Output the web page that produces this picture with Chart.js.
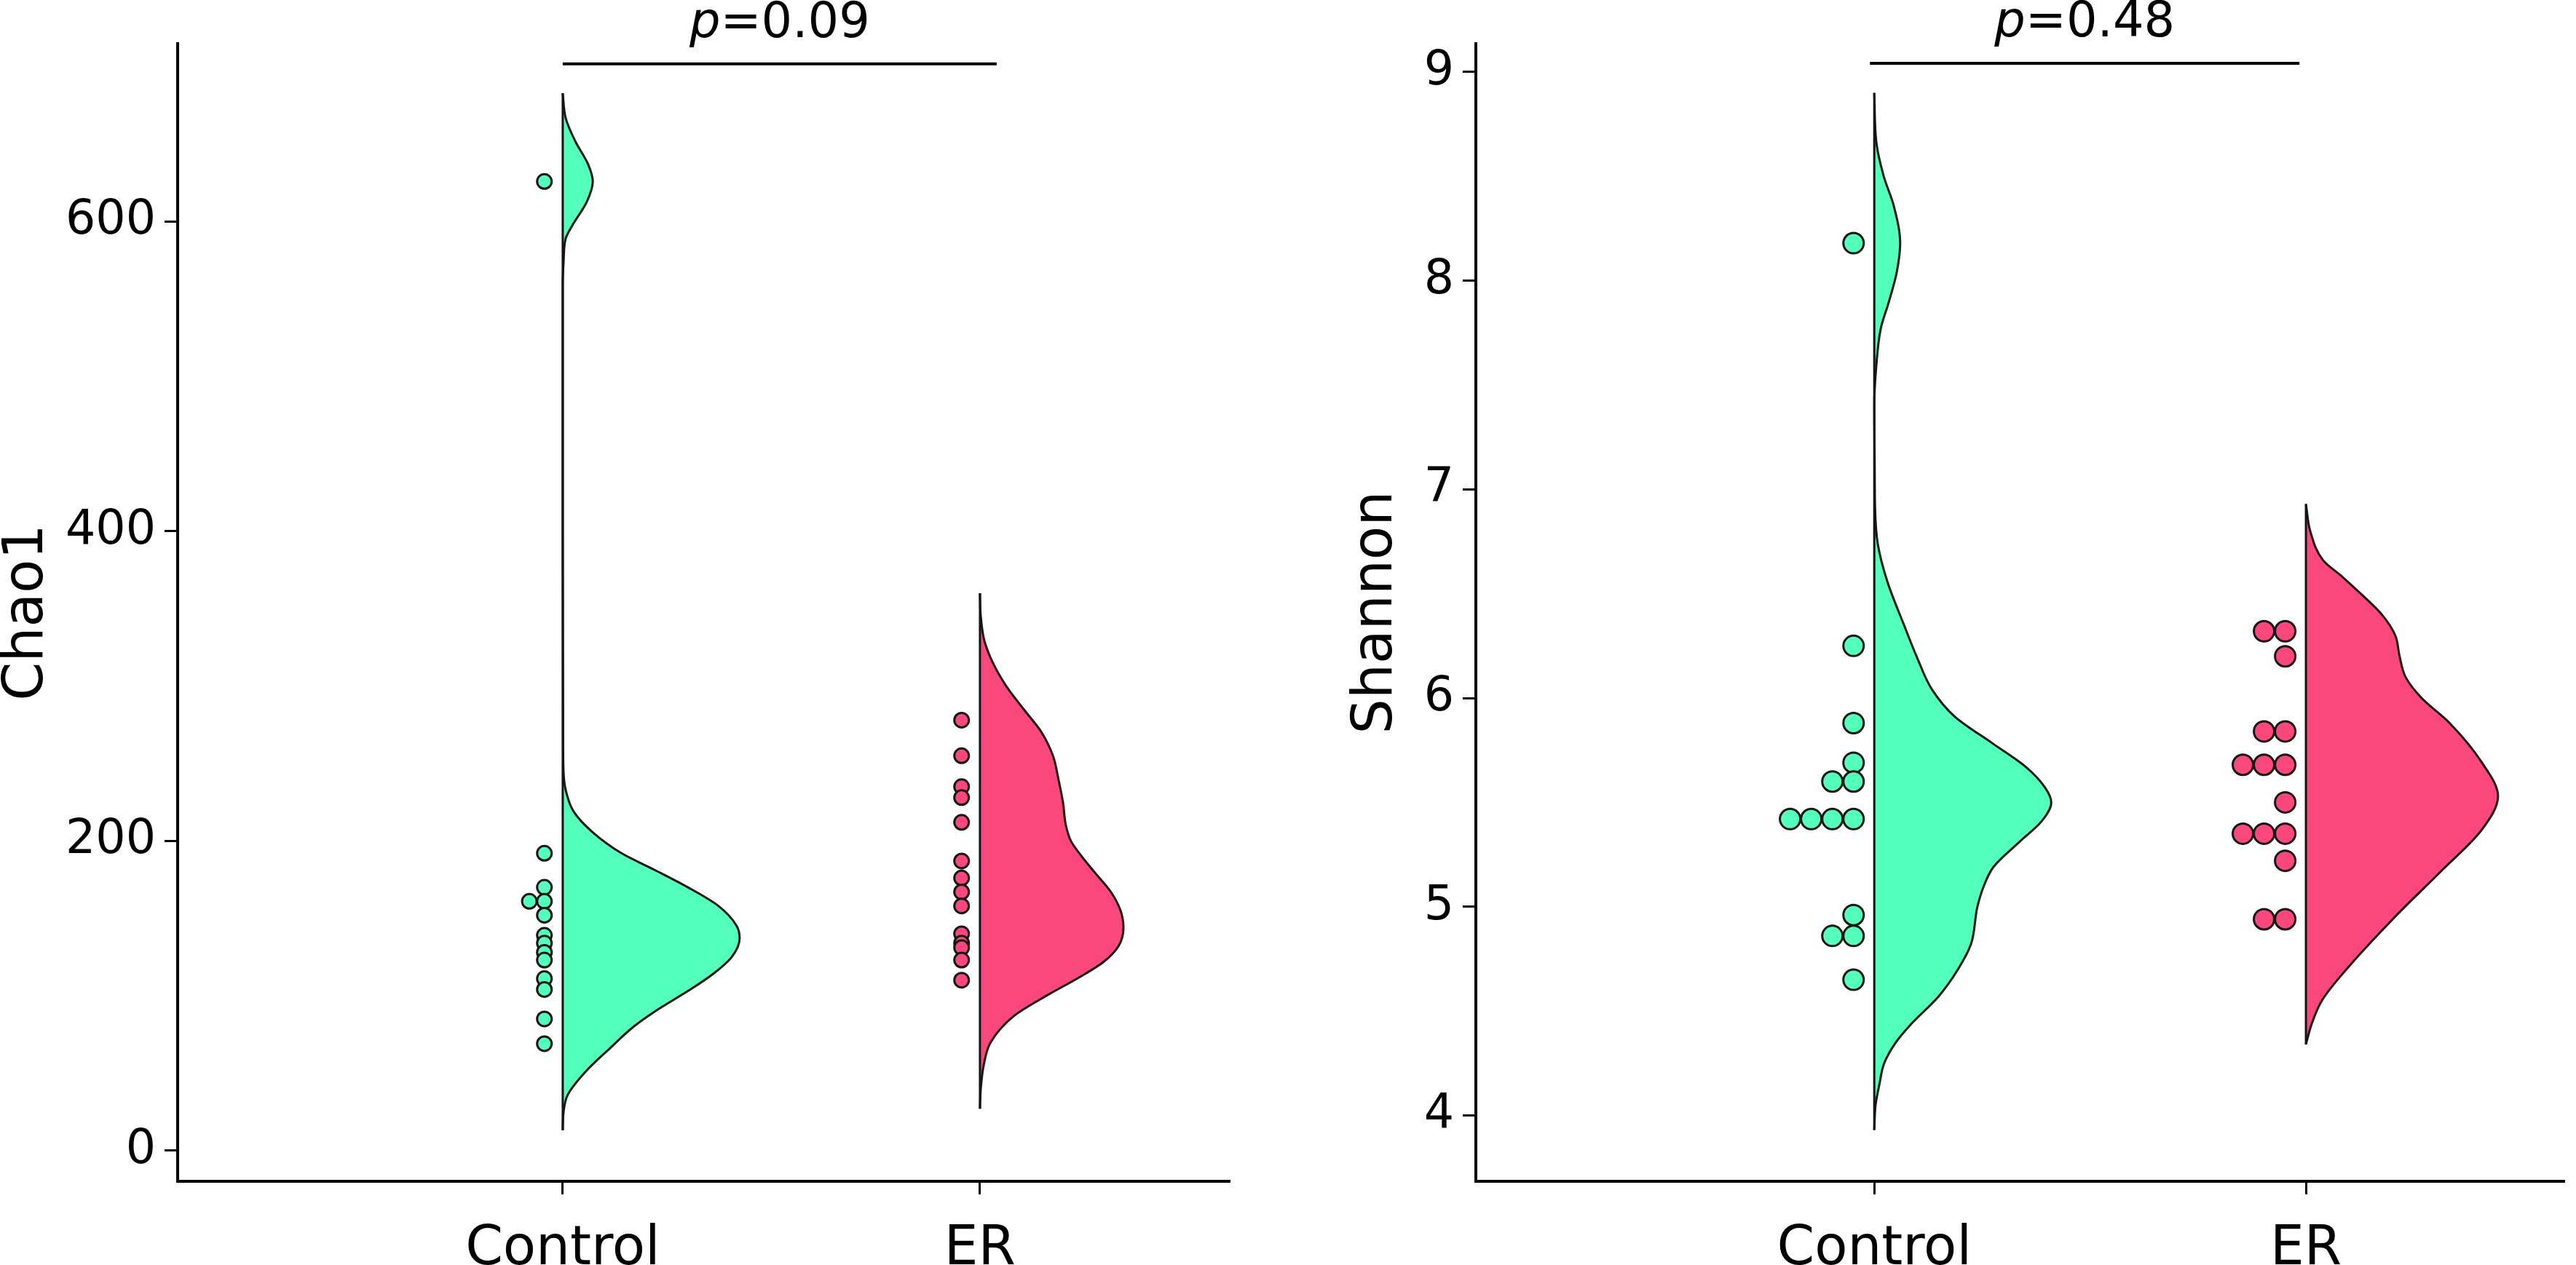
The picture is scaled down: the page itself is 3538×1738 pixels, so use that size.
<!DOCTYPE html>
<html>
<head>
<meta charset="utf-8">
<script src="https://cdn.jsdelivr.net/npm/chart.js@4.4.0/dist/chart.umd.min.js"></script>
<style>
    html, body { margin: 0; padding: 0; background: #fff; }
    #left { position: absolute; left: 0; top: 0; }
    #right { position: absolute; left: 1800px; top: 0; }
</style>
</head>
<body>
<canvas id="left" width="1800" height="1738"></canvas>
<canvas id="right" width="1738" height="1738"></canvas>
<script>
var groups = ['Control', 'ER'];

// Chao1 panel
var chaoTicks = [0, 200, 400, 600];
var chaoControl = [626, 192, 170, 161, 161, 152, 139, 134, 128, 123, 111, 104, 85, 69];
var chaoER = [278, 255, 235, 228, 212, 187, 176, 167, 158, 140, 134, 131, 123, 110];
var chaoControlDensY = [13, 25, 36, 51, 66, 80, 90, 103, 114, 125, 137, 145, 158, 170, 181, 192, 206, 219, 233, 244, 260, 400, 560, 574, 589, 598, 613, 626, 637, 652, 667, 683];
var chaoControlDensW = [0, 0.002, 0.012, 0.055, 0.113, 0.170, 0.222, 0.300, 0.360, 0.405, 0.424, 0.417, 0.373, 0.300, 0.222, 0.141, 0.070, 0.026, 0.007, 0.002, 0.001, 0, 0, 0.002, 0.007, 0.024, 0.058, 0.072, 0.061, 0.030, 0.007, 0];
var chaoERDensY = [27, 40, 55, 70, 87, 101, 112, 122, 132, 144, 155, 167, 180, 190, 200, 210, 225, 240, 255, 270, 285, 300, 315, 330, 345, 360];
var chaoERDensW = [0, 0.002, 0.009, 0.026, 0.082, 0.166, 0.239, 0.297, 0.332, 0.344, 0.337, 0.314, 0.274, 0.244, 0.218, 0.206, 0.199, 0.188, 0.175, 0.148, 0.105, 0.063, 0.031, 0.010, 0.002, 0];
var chaoBracket = [1, 2.04, 702];
var chaoP = '0.09';

// Shannon panel
var shannonTicks = [4, 5, 6, 7, 8, 9];
var shannonControl = [8.18, 6.25, 5.88, 5.69, 5.60, 5.60, 5.42, 5.42, 5.42, 5.42, 4.96, 4.86, 4.86, 4.65];
var shannonER = [6.32, 6.32, 6.20, 5.84, 5.84, 5.68, 5.68, 5.68, 5.50, 5.35, 5.35, 5.35, 5.22, 4.94, 4.94];
var shannonControlDensY = [3.93, 4.05, 4.15, 4.25, 4.35, 4.43, 4.57, 4.70, 4.82, 5.00, 5.10, 5.19, 5.31, 5.41, 5.50, 5.57, 5.67, 5.78, 5.91, 6.04, 6.19, 6.36, 6.56, 6.74, 6.90, 7.10, 7.40, 7.60, 7.77, 7.90, 8.04, 8.18, 8.36, 8.50, 8.66, 8.90];
var shannonControlDensW = [0, 0.003, 0.012, 0.023, 0.050, 0.082, 0.149, 0.194, 0.224, 0.239, 0.254, 0.276, 0.336, 0.388, 0.410, 0.396, 0.351, 0.276, 0.187, 0.134, 0.100, 0.067, 0.030, 0.008, 0.002, 0.001, 0, 0.005, 0.015, 0.034, 0.052, 0.060, 0.045, 0.022, 0.005, 0];
var shannonERDensY = [4.34, 4.43, 4.55, 4.70, 4.94, 5.17, 5.37, 5.53, 5.69, 5.88, 6.00, 6.10, 6.20, 6.30, 6.40, 6.50, 6.58, 6.66, 6.80, 6.93];
var shannonERDensW = [0, 0.012, 0.037, 0.094, 0.201, 0.313, 0.408, 0.445, 0.408, 0.333, 0.268, 0.231, 0.217, 0.207, 0.176, 0.127, 0.085, 0.040, 0.010, 0];
var shannonBracket = [0.99, 1.985, 9.042];
var shannonP = '0.48';

var green = '#54FFBB';
var pink = '#FA487D';
var ink = '#151515';
var font = '"DejaVu Sans", Verdana, sans-serif';

Chart.defaults.color = '#000';
Chart.defaults.font.family = font;

// dots with the same value are stacked to the left of the violin
function dotStack(values, pos, gap, step) {
    var seen = {};
    return values.map(function(v) {
        var k = seen[v] || 0;
        seen[v] = k + 1;
        return {x: pos - gap - k * step, y: v};
    });
}

function halfViolin(ys, ws, pos) {
    return ys.map(function(y, i) { return {x: pos + ws[i], y: y}; });
}

function violinSet(ys, ws, pos, color) {
    return {
        type: 'line',
        indexAxis: 'y',
        data: halfViolin(ys, ws, pos),
        borderColor: ink,
        borderWidth: 3,
        backgroundColor: color,
        fill: {value: pos},
        pointRadius: 0,
        cubicInterpolationMode: 'monotone'
    };
}

// straight edge of the half violin, from its lowest to its highest value
function edgeSet(ys, pos) {
    return {
        type: 'line',
        data: [{x: pos, y: ys[0]}, {x: pos, y: ys[ys.length - 1]}],
        borderColor: ink,
        borderWidth: 3,
        pointRadius: 0,
        fill: false
    };
}

function dotSet(values, pos, color, r, gap, step) {
    return {
        type: 'scatter',
        data: dotStack(values, pos, gap, step),
        backgroundColor: color,
        borderColor: ink,
        borderWidth: 3,
        pointRadius: r
    };
}

var pLabel = {
    id: 'pLabel',
    afterDatasetsDraw: function(chart, args, opts) {
        var ctx = chart.ctx;
        var xs = chart.scales.x, ys = chart.scales.y;
        var cx = (xs.getPixelForValue(opts.bracket[0]) + xs.getPixelForValue(opts.bracket[1])) / 2;
        var y = ys.getPixelForValue(opts.bracket[2]) - 37;
        var it = 'italic 67px ' + font, nm = '67px ' + font;
        ctx.save();
        ctx.fillStyle = '#000';
        ctx.textBaseline = 'alphabetic';
        ctx.font = it;
        var w1 = ctx.measureText('p').width;
        ctx.font = nm;
        var w2 = ctx.measureText('=' + opts.text).width;
        var x0 = cx - (w1 + w2) / 2;
        ctx.font = it;
        ctx.fillText('p', x0, y);
        ctx.font = nm;
        ctx.fillText('=' + opts.text, x0 + w1, y);
        ctx.restore();
    }
};

function panel(id, p) {
    // first dataset is drawn on top
    var datasets = [
        dotSet(p.ctrl, 1, green, p.r, p.gap, p.step),
        dotSet(p.er, 2, pink, p.r, p.gap, p.step),
        {
            type: 'line',
            data: [{x: p.bracket[0], y: p.bracket[2]}, {x: p.bracket[1], y: p.bracket[2]}],
            borderColor: '#000',
            borderWidth: 4,
            pointRadius: 0,
            fill: false
        },
        edgeSet(p.ctrlY, 1),
        edgeSet(p.erY, 2),
        violinSet(p.ctrlY, p.ctrlW, 1, green),
        violinSet(p.erY, p.erW, 2, pink)
    ];

    var ctx = document.getElementById(id).getContext('2d');
    return new Chart(ctx, {
        type: 'line',
        data: {datasets: datasets},
        plugins: [pLabel],
        options: {
            responsive: false,
            animation: false,
            devicePixelRatio: 1,
            layout: {padding: {top: 60, right: p.padRight, left: 0, bottom: 0}},
            plugins: {
                legend: {display: false},
                tooltip: {enabled: false},
                pLabel: {bracket: p.bracket, text: p.pText}
            },
            scales: {
                x: {
                    type: 'linear',
                    min: 0.077,
                    max: 2.597,
                    afterBuildTicks: function(s) { s.ticks = [{value: 1}, {value: 2}]; },
                    afterFit: function(s) { s.height = 115; },
                    ticks: {
                        callback: function(v) { return groups[Math.round(v) - 1]; },
                        font: {size: 74},
                        padding: 32,
                        maxRotation: 0
                    },
                    grid: {drawOnChartArea: false, drawTicks: true, tickLength: 18, color: '#000', lineWidth: 3},
                    border: {display: true, color: '#000', width: 4}
                },
                y: {
                    type: 'linear',
                    min: p.yMin,
                    max: p.yMax,
                    afterBuildTicks: function(s) { s.ticks = p.ticks.map(function(v) { return {value: v}; }); },
                    afterFit: function(s) { s.width = p.axisW; },
                    ticks: {font: {size: 65}, padding: 12},
                    grid: {drawOnChartArea: false, drawTicks: true, tickLength: 18, color: '#000', lineWidth: 3},
                    border: {display: true, color: '#000', width: 4},
                    title: {
                        display: true,
                        text: p.title,
                        font: {size: 76, lineHeight: 1},
                        padding: {top: p.titlePad, bottom: 0}
                    }
                }
            }
        }
    });
}

panel('left', {
    title: 'Chao1', ticks: chaoTicks, yMin: -19.9, yMax: 715,
    ctrl: chaoControl, er: chaoER,
    ctrlY: chaoControlDensY, ctrlW: chaoControlDensW,
    erY: chaoERDensY, erW: chaoERDensW,
    bracket: chaoBracket, pText: chaoP,
    r: 10, gap: 0.044, step: 0.036,
    axisW: 244, padRight: 112, titlePad: 0
});

panel('right', {
    title: 'Shannon', ticks: shannonTicks, yMin: 3.684, yMax: 9.136,
    ctrl: shannonControl, er: shannonER,
    ctrlY: shannonControlDensY, ctrlW: shannonControlDensW,
    erY: shannonERDensY, erW: shannonERDensW,
    bracket: shannonBracket, pText: shannonP,
    r: 14, gap: 0.048, step: 0.049,
    axisW: 227, padRight: 6, titlePad: 53
});
</script>
</body>
</html>
